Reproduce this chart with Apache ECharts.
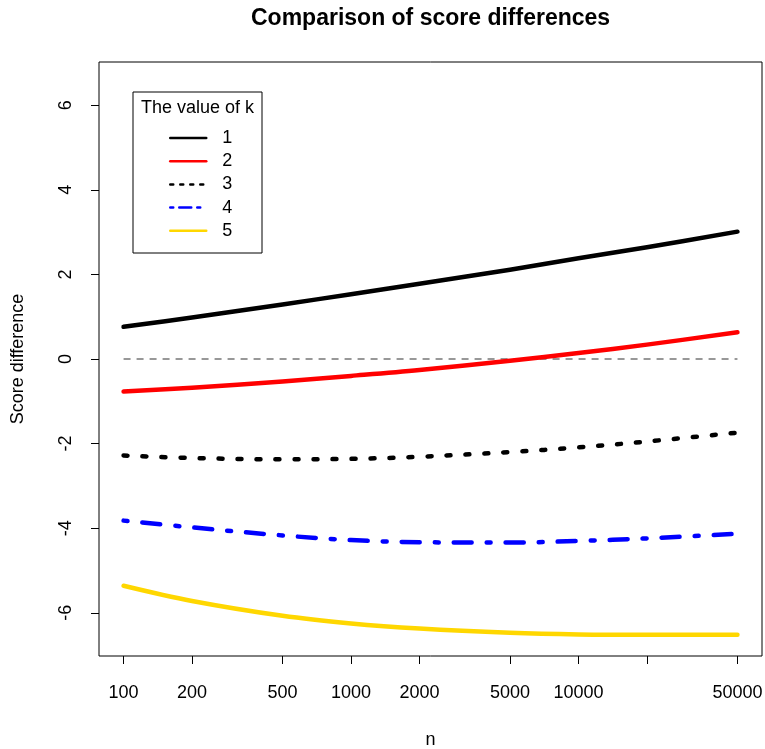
<!DOCTYPE html>
<html>
<head>
<meta charset="utf-8">
<script src="https://cdn.jsdelivr.net/npm/echarts@6/dist/echarts.min.js"></script>
<style>
html,body{margin:0;padding:0;background:#fff;}
#chart{width:765px;height:749px;}
</style>
</head>
<body>
<div id="chart"></div>
<script>
const nValues = [100, 200, 500, 1000, 2000, 5000, 10000, 20000, 50000];
const k1 = [0.76, 0.98, 1.29, 1.53, 1.78, 2.11, 2.38, 2.64, 3.01];
const k2 = [-0.77, -0.68, -0.53, -0.40, -0.26, -0.04, 0.14, 0.34, 0.63];
const k3 = [-2.28, -2.34, -2.37, -2.36, -2.31, -2.20, -2.09, -1.95, -1.74];
const k4 = [-3.82, -3.98, -4.17, -4.28, -4.33, -4.34, -4.30, -4.24, -4.13];
const k5 = [-5.36, -5.72, -6.07, -6.25, -6.37, -6.47, -6.51, -6.52, -6.52];
const kNames = ['1', '2', '3', '4', '5'];
const xTicks = [100, 200, 500, 1000, 2000, 5000, 10000, 20000, 50000];
const xTickLabels = ['100', '200', '500', '1000', '2000', '5000', '10000', '', '50000'];
const yTicks = [-6, -4, -2, 0, 2, 4, 6];
const refLine = [0, 0];

const FONT = '"Liberation Sans", Arial, Helvetica, sans-serif';
const pairs = (ys) => nValues.map((n, i) => [n, ys[i]]);

const seriesDefs = [
  { name: kNames[0], data: k1, color: '#000000', type: 'solid', legendType: 'solid' },
  { name: kNames[1], data: k2, color: '#FF0000', type: 'solid', legendType: 'solid' },
  { name: kNames[2], data: k3, color: '#000000', type: [4, 15], legendType: [3, 7] },
  { name: kNames[3], data: k4, color: '#0000FF', type: [4, 15, 18, 15], legendType: [3, 6, 12, 6] },
  { name: kNames[4], data: k5, color: '#FFD700', type: 'solid', legendType: 'solid' }
];

const chart = echarts.init(document.getElementById('chart'), null, { renderer: 'canvas' });

const series = seriesDefs.map(d => ({
  name: d.name,
  type: 'line',
  data: pairs(d.data),
  smooth: 0.35,
  symbol: 'none',
  showSymbol: false,
  lineStyle: { color: d.color, width: 4.5, type: d.type, cap: 'round', join: 'round' },
  itemStyle: { color: d.color },
  emphasis: { disabled: true },
  z: 3
}));

series.push({
  name: 'zero',
  type: 'line',
  data: [[nValues[0], refLine[0]], [nValues[nValues.length - 1], refLine[1]]],
  symbol: 'none',
  lineStyle: { color: '#333333', width: 1.2, type: [7, 6] },
  emphasis: { disabled: true },
  z: 2
});

const option = {
  animation: false,
  backgroundColor: '#ffffff',
  textStyle: { fontFamily: FONT },
  title: {
    text: 'Comparison of score differences',
    left: 246,
    top: 2,
    textStyle: { fontFamily: FONT, fontSize: 23, fontWeight: 'bold', color: '#000' }
  },
  grid: {
    left: 99, right: 3, top: 62, bottom: 93,
    show: true, borderColor: '#000', borderWidth: 1,
    containLabel: false,
    outerBoundsMode: 'none'
  },
  legend: {
    orient: 'vertical',
    left: 169,
    top: 129,
    padding: 0,
    itemWidth: 36,
    itemHeight: 14,
    itemGap: 5.2,
    selectedMode: false,
    itemStyle: { opacity: 0 },
    textStyle: { fontFamily: FONT, fontSize: 18, lineHeight: 18, color: '#000', padding: [0, 0, 0, 11] },
    data: seriesDefs.map(d => ({
      name: d.name,
      lineStyle: { color: d.color, width: 2.5, type: d.legendType, opacity: 1 },
      itemStyle: { opacity: 0 }
    }))
  },
  graphic: [
    {
      type: 'rect',
      shape: { x: 133, y: 92, width: 129, height: 161 },
      style: { fill: 'none', stroke: '#000', lineWidth: 1 },
      z: 10
    },
    {
      type: 'text',
      x: 197.5, y: 108,
      style: { text: 'The value of k', fontFamily: FONT, fontSize: 18, fill: '#000', textAlign: 'center', textVerticalAlign: 'middle' },
      z: 10
    }
  ],
  xAxis: {
    type: 'log',
    logBase: 10,
    min: 77.98,
    max: 64110,
    name: 'n',
    nameLocation: 'middle',
    nameGap: 75,
    nameTextStyle: { fontFamily: FONT, fontSize: 18, color: '#000' },
    axisLine: { show: false, onZero: false },
    axisTick: { show: true, length: 8, lineStyle: { color: '#000' }, customValues: xTicks },
    minorTick: { show: false },
    splitLine: { show: false },
    axisLabel: {
      customValues: xTicks,
      margin: 28,
      fontFamily: FONT, fontSize: 18, color: '#000',
      formatter: (v) => {
        for (let i = 0; i < xTicks.length; i++) {
          if (Math.abs(v - xTicks[i]) / xTicks[i] < 1e-6) return xTickLabels[i];
        }
        return '';
      }
    }
  },
  yAxis: {
    type: 'value',
    min: -7.02,
    max: 7.02,
    name: 'Score difference',
    nameLocation: 'middle',
    nameGap: 72,
    nameRotate: 90,
    nameTextStyle: { fontFamily: FONT, fontSize: 18, color: '#000' },
    axisLine: { show: false, onZero: false },
    axisTick: { show: true, length: 8, lineStyle: { color: '#000' }, customValues: yTicks },
    splitLine: { show: false },
    axisLabel: {
      customValues: yTicks,
      rotate: 90,
      margin: 24,
      fontFamily: FONT, fontSize: 18, color: '#000',
      formatter: (v) => String(v)
    }
  },
  series: series
};

chart.setOption(option);
</script>
</body>
</html>
